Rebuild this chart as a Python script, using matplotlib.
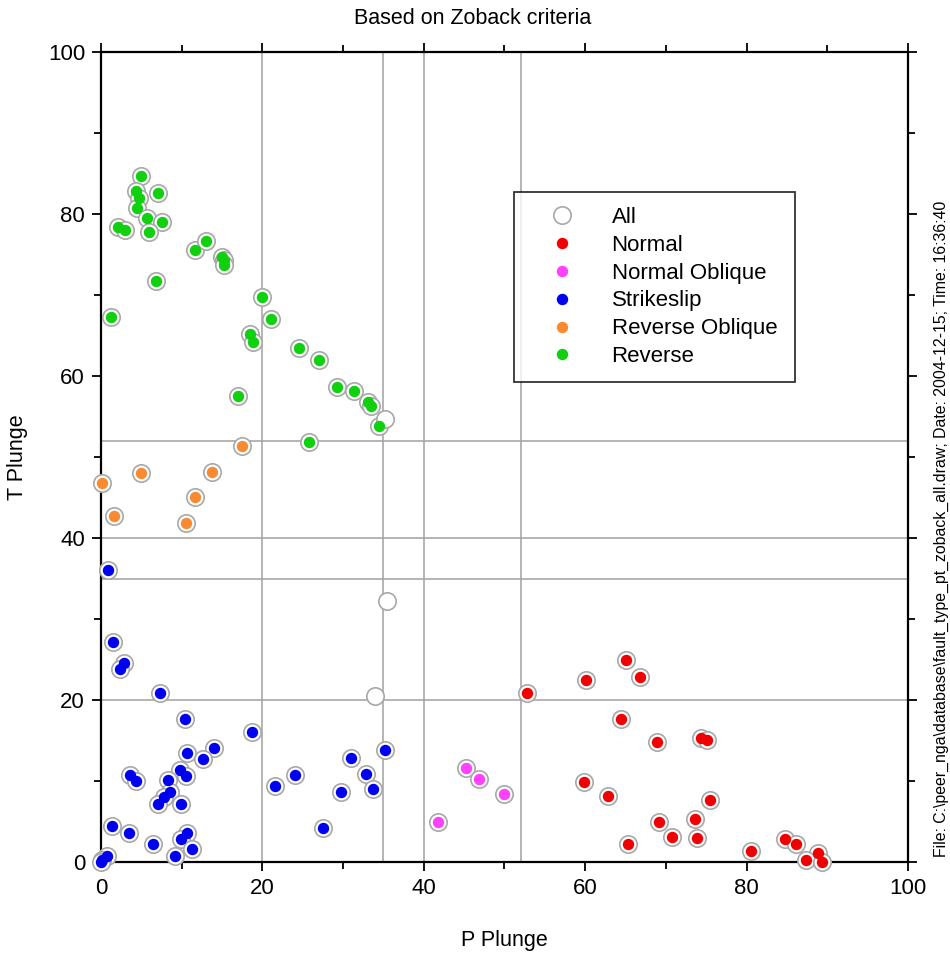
import matplotlib
matplotlib.use("Agg")
import matplotlib.pyplot as plt
from matplotlib.lines import Line2D

# Use an Arial-like font
plt.rcParams['font.family'] = ['Liberation Sans', 'DejaVu Sans']

# P plunge / T plunge for each fault type
normal_p = [52.75, 60.05, 65.1, 66.8, 64.4, 68.9, 74.4, 75.1, 59.9, 62.8, 75.5,
            69.2, 73.6, 70.75, 73.9, 65.3, 80.5, 84.8, 86.1, 88.9, 87.3, 89.4]
normal_t = [20.9, 22.5, 25.0, 22.9, 17.7, 14.8, 15.3, 15.1, 9.9, 8.1, 7.6,
            4.9, 5.3, 3.1, 3.0, 2.2, 1.3, 2.9, 2.2, 1.1, 0.2, 0.0]

normal_obl_p = [41.8, 45.2, 46.9, 50.0]
normal_obl_t = [4.9, 11.6, 10.2, 8.4]

strikeslip_p = [0.9, 1.5, 2.9, 2.3, 7.35, 10.4, 18.75, 10.7, 14.0, 12.7, 9.8, 10.5,
                3.6, 4.4, 8.3, 8.55, 7.8, 7.1, 9.9, 1.4, 3.5, 6.4, 10.7, 9.9,
                11.3, 9.2, 0.7, 0.1, 0.0, 21.6, 24.0, 27.5, 29.7, 31.0, 32.9, 33.7, 35.2]
strikeslip_t = [36.1, 27.2, 24.6, 23.8, 20.9, 17.6, 16.1, 13.4, 14.1, 12.7, 11.4, 10.6,
                10.7, 10.0, 10.1, 8.6, 8.0, 7.2, 7.2, 4.4, 3.6, 2.2, 3.6, 2.9,
                1.6, 0.8, 0.8, 0.2, 0.0, 9.4, 10.7, 4.2, 8.6, 12.8, 10.9, 9.0, 13.8]

reverse_obl_p = [0.1, 4.96, 13.75, 11.6, 1.65, 10.5, 17.5]
reverse_obl_t = [46.75, 48.0, 48.1, 45.1, 42.7, 41.8, 51.3]

reverse_p = [4.96, 4.3, 4.7, 7.06, 4.5, 5.7, 7.5, 2.1, 3.0, 6.0, 11.6, 13.0, 15.0,
             15.2, 15.3, 6.8, 1.3, 20.0, 21.1, 18.5, 18.8, 24.5, 27.0, 29.3, 31.4,
             33.1, 33.5, 34.4, 17.0, 25.8]
reverse_t = [84.7, 82.9, 82.0, 82.6, 80.8, 79.5, 79.0, 78.4, 78.0, 77.8, 75.5, 76.7, 74.7,
             74.3, 73.7, 71.7, 67.3, 69.8, 67.0, 65.2, 64.2, 63.5, 62.0, 58.6, 58.1,
             56.8, 56.3, 53.8, 57.5, 51.9]

# events that fall in no class (only in "All")
other_p = [35.2, 35.4, 33.95]
other_t = [54.7, 32.2, 20.5]

# Zoback class boundaries
boundaries = [20, 35, 40, 52]

groups = [
    ("Normal", normal_p, normal_t, "#f00000"),
    ("Normal Oblique", normal_obl_p, normal_obl_t, "#ff40ff"),
    ("Strikeslip", strikeslip_p, strikeslip_t, "#0000f0"),
    ("Reverse Oblique", reverse_obl_p, reverse_obl_t, "#f88a32"),
    ("Reverse", reverse_p, reverse_t, "#10d010"),
]

all_p = normal_p + normal_obl_p + strikeslip_p + reverse_obl_p + reverse_p + other_p
all_t = normal_t + normal_obl_t + strikeslip_t + reverse_obl_t + reverse_t + other_t

ring_color = "#a8a8a8"

fig = plt.figure(figsize=(9.5, 9.56), dpi=100)
ax = fig.add_axes([0.1063, 0.0983, 0.8495, 0.8473])

# boundary lines
for b in boundaries:
    ax.axvline(b, color="#a0a0a0", lw=1.1, zorder=1)
    ax.axhline(b, color="#a0a0a0", lw=1.1, zorder=1)

# all events as open rings
ax.plot(all_p, all_t, 'o', ms=12.5, mfc='white', mec=ring_color, mew=1.2,
        linestyle='none', clip_on=False, zorder=5)

# coloured dots per class
for name, p, t, c in groups:
    ax.plot(p, t, 'o', ms=7.2, color=c, mec=c, linestyle='none',
            clip_on=False, zorder=6)

ax.set_xlim(0, 100)
ax.set_ylim(0, 100)
ax.set_xticks(range(0, 101, 20))
ax.set_yticks(range(0, 101, 20))
ax.set_xticks(range(10, 100, 20), minor=True)
ax.set_yticks(range(10, 100, 20), minor=True)
ax.tick_params(which='both', direction='out', top=True, right=True,
               labelsize=16, width=1.3, pad=5)
ax.tick_params(which='major', length=6.5)
ax.tick_params(which='minor', length=5)
for s in ax.spines.values():
    s.set_linewidth(1.6)

ax.set_xlabel("P Plunge", fontsize=15.5, labelpad=22)
ax.set_ylabel("T Plunge", fontsize=15.5, labelpad=14)

fig.text(0.498, 0.981, "Based on Zoback criteria", fontsize=15.5,
         ha='center', va='center')
fig.text(0.991, 0.4467,
         r"File: C:\peer_nga\database\fault_type_pt_zoback_all.draw; Date: 2004-12-15; Time: 16:36:40",
         fontsize=11.4, rotation=90, ha='center', va='center')

# legend
handles = [Line2D([], [], marker='o', ms=12.5, mfc='none', mec=ring_color,
                  mew=1.2, linestyle='none')]
for name, p, t, c in groups:
    handles.append(Line2D([], [], marker='o', ms=7.2, color=c, linestyle='none'))
labels = ["All"] + [g[0] for g in groups]
leg = ax.legend(handles, labels, loc='upper left',
                bbox_to_anchor=(0.512, 0.594, 0.348, 0.233), mode='expand',
                borderaxespad=0, fontsize=16, frameon=True, fancybox=False,
                borderpad=0.66, handlelength=3.0, handletextpad=0.72,
                labelspacing=0.31)
leg.get_frame().set_edgecolor('black')
leg.get_frame().set_linewidth(1.3)
leg.set_zorder(10)

fig.savefig("out.png", dpi=100)
